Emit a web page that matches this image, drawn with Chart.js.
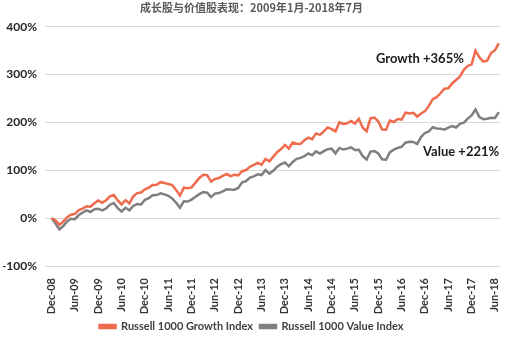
<!DOCTYPE html>
<html><head><meta charset="utf-8">
<script src="https://cdn.jsdelivr.net/npm/chart.js@4/dist/chart.umd.min.js"></script>
<style>html,body{margin:0;padding:0;background:#fff}#wrap{width:515px;height:339px;position:relative}</style>
</head><body><div id="wrap"><canvas id="c"></canvas></div>
<script>
const titleText = '成长股与价值股表现：2009年1月-2018年7月';
const tickLabels = ['Dec-08','Jun-09','Dec-09','Jun-10','Dec-10','Jun-11','Dec-11','Jun-12','Dec-12','Jun-13',
  'Dec-13','Jun-14','Dec-14','Jun-15','Dec-15','Jun-16','Dec-16','Jun-17','Dec-17','Jun-18'];
const seriesNames = ['Russell 1000 Growth Index','Russell 1000 Value Index'];
const endNotes = ['Growth +365%','Value +221%'];
// cumulative return (%), monthly from Dec-08 to Jul-18
const growth = [0,
  -5,-14,-7,2,7,9,17,20,25,24,31,37,
  32,37.5,45.7,48.3,37,28.8,37.6,30.7,45.6,52.4,53.6,60.1,
  63.9,69.3,69.6,75.2,73.6,71.4,69.2,59.0,47.1,63.7,62.7,64.3,
  74.2,84.0,90.6,89.8,76.5,81.8,83.8,88.4,92.5,87.7,90.7,89.4,
  98.1,100.5,107.3,111.2,115.4,111.8,123.6,118.7,128.5,137.8,144.3,152.9,
  145.3,158.1,155.5,154.8,163.0,168.3,164.8,177.0,174.0,181.4,189.6,185.9,
  181.3,200.1,196.8,198.3,202.8,197.5,207.6,188.9,181.7,208.4,210.1,202.1,
  185.2,184.6,204.0,200.9,207.2,206.0,220.4,218.8,220.1,212.4,218.7,223.5,
  234.5,248.6,252.6,260.9,270.3,271.4,281.4,288.7,295.8,310.0,318.0,321.2,
  350,336,327,329,345,351,365];
const value = [0,
  -11.5,-23.4,-16.5,-6.9,-1.2,-2.2,6.4,11.9,16.4,12.9,18.7,19.7,
  16.2,20.0,28.1,31.6,20.7,13.9,21.7,16.4,25.5,29.3,28.5,38.4,
  42.0,47.7,48.3,52.0,49.7,46.7,41.0,32.3,21.7,35.3,34.6,38.8,
  44.5,50.2,54.7,53.2,44.0,51.2,52.4,55.8,60.4,59.6,59.4,63.1,
  74.7,77.3,84.6,87.4,91.7,90.0,100.3,93.1,98.7,107.6,112.8,116.1,
  108.3,117.3,123.8,126.0,129.4,135.4,131.4,139.5,134.8,140.0,144.1,145.2,
  135.4,146.7,143.3,145.3,147.8,142.4,142.9,129.3,122.4,139.1,140.1,135.1,
  122.9,122.0,138.0,143.0,146.9,149.1,157.6,159.7,159.2,154.8,169.3,178.0,
  181.0,190.0,187.5,187.0,185.0,189.0,192.5,189.5,197.0,199.5,208.0,214.6,
  226.9,211.2,206.8,207.7,209.6,209.3,221.6];
const yTicks = [-100,0,100,200,300,400];

const FONT = 'Lato, "Open Sans", sans-serif';
const notesPlugin = {
  id: 'notes',
  afterDatasetsDraw(chart) {
    const {ctx, scales:{x, y}} = chart;
    ctx.save();
    ctx.font = 'bold 13px ' + FONT;
    ctx.fillStyle = '#1a1a1a';
    ctx.textAlign = 'center';
    ctx.textBaseline = 'middle';
    ctx.fillText(endNotes[0], x.getPixelForValue(94.7), y.getPixelForValue(332));
    ctx.fillText(endNotes[1], x.getPixelForValue(105.3), y.getPixelForValue(138));
    ctx.restore();
  }
};

new Chart(document.getElementById('c'), {
  type: 'line',
  data: {
    datasets: [
      {label: seriesNames[0], data: growth.map((v,i)=>({x:i,y:v})), borderColor:'#EE6B4D', backgroundColor:'#EE6B4D', borderWidth:2.5, pointRadius:0, tension:0},
      {label: seriesNames[1], data: value.map((v,i)=>({x:i,y:v})), borderColor:'#7F7F7F', backgroundColor:'#7F7F7F', borderWidth:2.5, pointRadius:0, tension:0}
    ]
  },
  options: {
    responsive: true, maintainAspectRatio: false, animation: false,
    layout: {padding: {left: 3, right: 15, top: 0, bottom: -3}},
    plugins: {
      title: {display: true, text: titleText, color: '#595959',
        font: {family: '"Noto Sans CJK SC", sans-serif', size: 11, weight: 'bold'},
        padding: {top: 1, bottom: 12.5}},
      legend: {position: 'bottom',
        labels: {boxWidth: 16, boxHeight: 3, padding: 7, color: '#404040',
          font: {family: FONT, size: 11, weight: 'bold'}}},
      tooltip: {enabled: false}
    },
    scales: {
      x: {type: 'linear', min: -1.7, max: 115.3,
        afterBuildTicks: s => { s.ticks = tickLabels.map((_,k)=>({value:k*6})); },
        afterFit: s => { s.height = 48; },
        grid: {display: false}, border: {display: false},
        ticks: {autoSkip: false, maxRotation: 90, minRotation: 90, padding: 4, color: '#333333',
          font: {family: FONT, size: 11, weight: 'bold'},
          callback: v => tickLabels[Math.round(v/6)]}},
      y: {min: -100, max: 400,
        afterBuildTicks: s => { s.ticks = yTicks.map(v=>({value:v})); },
        afterFit: s => { s.width = 42; },
        grid: {color: '#D9D9D9', drawTicks: false, lineWidth: 1}, border: {display: false},
        ticks: {padding: 8, color: '#262626', font: {family: FONT, size: 12, weight: 'bold'},
          callback: v => v + '%'}}
    }
  },
  plugins: [notesPlugin]
});
</script></body></html>
